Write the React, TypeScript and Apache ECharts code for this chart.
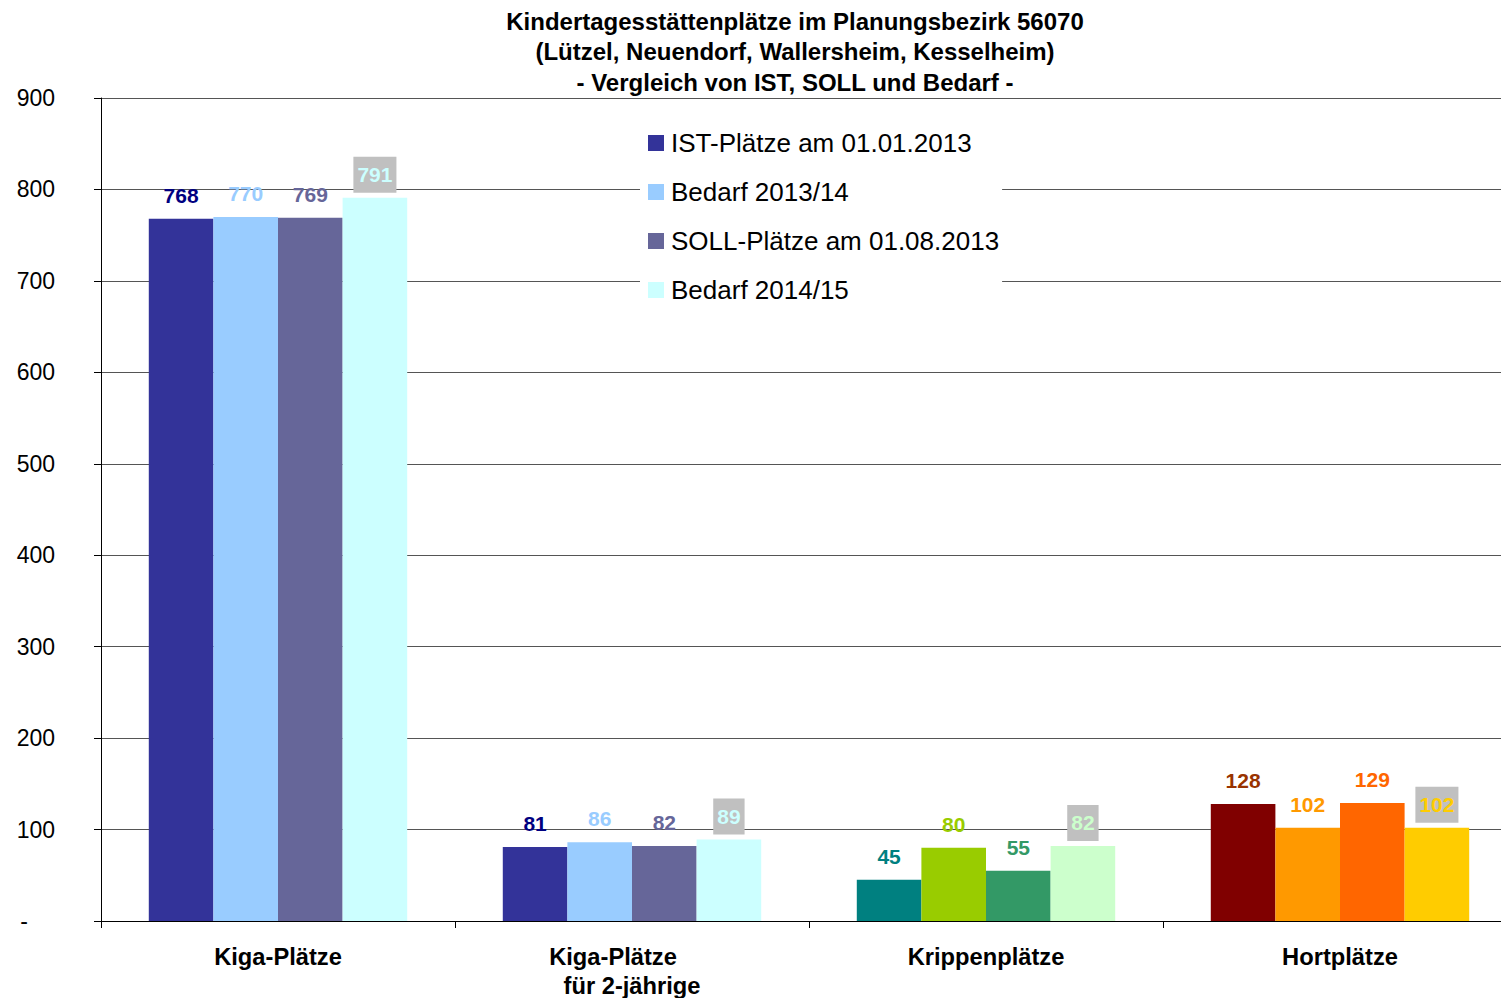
import React, { useEffect, useRef } from "react";
import * as echarts from "echarts";

const categories = ["Kiga-Plätze", "Kiga-Plätze\nfür 2-jährige", "Krippenplätze", "Hortplätze"];
const seriesNames = ["IST-Plätze am 01.01.2013", "Bedarf 2013/14", "SOLL-Plätze am 01.08.2013", "Bedarf 2014/15"];
const istValues = [768, 81, 45, 128];
const bedarf1314Values = [770, 86, 80, 102];
const sollValues = [769, 82, 55, 129];
const bedarf1415Values = [791, 89, 82, 102];
const yTicks = [0, 100, 200, 300, 400, 500, 600, 700, 800, 900];
const titleLines = [
  "Kindertagesstättenplätze im Planungsbezirk 56070",
  "(Lützel, Neuendorf, Wallersheim, Kesselheim)",
  "- Vergleich von IST, SOLL und Bedarf -",
];

// bar colours per category group (rows) and series (columns)
const barColors = [
  ["#333399", "#99CCFF", "#666699", "#CCFFFF"],
  ["#333399", "#99CCFF", "#666699", "#CCFFFF"],
  ["#008080", "#99CC00", "#339966", "#CCFFCC"],
  ["#800000", "#FF9900", "#FF6600", "#FFCC00"],
];
const labelColors = [
  ["#000080", "#99CCFF", "#666699", "#CCFFFF"],
  ["#000080", "#99CCFF", "#666699", "#CCFFFF"],
  ["#008080", "#99CC00", "#339966", "#CCFFCC"],
  ["#993300", "#FF9900", "#FF6600", "#FFCC00"],
];
const legendColors = ["#333399", "#99CCFF", "#666699", "#CCFFFF"];

const FONT = "'Liberation Sans', Arial, Helvetica, sans-serif";

export default function App() {
  const ref = useRef<HTMLDivElement>(null);
  useEffect(() => {
    if (!ref.current) return;
    const chart = echarts.init(ref.current, undefined, { renderer: "svg" });
    const allValues = [istValues, bedarf1314Values, sollValues, bedarf1415Values];
    const series = allValues.map((vals, si) => ({
      name: seriesNames[si],
      type: "bar",
      barGap: "0%",
      barCategoryGap: "27%",
      itemStyle: { color: legendColors[si] },
      data: vals.map((v, ci) => ({
        value: v,
        itemStyle: { color: barColors[ci][si] },
        label: {
          show: true,
          position: "top",
          distance: si === 3 ? 5 : 13,
          color: labelColors[ci][si],
          fontSize: 21,
          fontWeight: "bold",
          fontFamily: FONT,
          backgroundColor: si === 3 ? "#C0C0C0" : "transparent",
          padding: si === 3 ? [7, 4, 8, 4] : 0,
        },
      })),
    }));
    chart.setOption({
      animation: false,
      backgroundColor: "#ffffff",
      textStyle: { fontFamily: FONT },
      title: {
        text: titleLines.join("\n"),
        left: 795,
        top: 6,
        padding: 0,
        textAlign: "center",
        textStyle: {
          fontFamily: FONT,
          fontSize: 24,
          fontWeight: "bold",
          lineHeight: 30.5,
          color: "#000",
        },
      },
      legend: {
        data: seriesNames,
        orient: "vertical",
        left: 640,
        top: 120,
        padding: [10, 3, 10, 8],
        backgroundColor: "#ffffff",
        itemWidth: 16,
        itemHeight: 16,
        itemGap: 23,
        icon: "rect",
        selectedMode: false,
        textStyle: { fontFamily: FONT, fontSize: 26, color: "#000", padding: [0, 0, 0, 2] },
      },
      grid: {
        left: 101,
        top: 98,
        width: 1416,
        height: 823,
        containLabel: false,
        outerBoundsMode: "none",
      },
      xAxis: {
        type: "category",
        data: categories,
        axisLine: { lineStyle: { color: "#000", width: 1 } },
        axisTick: { show: true, length: 7, lineStyle: { color: "#000" } },
        axisLabel: {
          margin: 21,
          color: "#000",
          fontFamily: FONT,
          fontSize: 23.7,
          fontWeight: "bold",
          lineHeight: 29,
          formatter: (v: string) => {
            const parts = v.split("\n");
            if (parts.length === 2) return `{a|${parts[0]}}\n{b|${parts[1]}}`;
            return `{b|${v}}`;
          },
          rich: {
            a: { fontFamily: FONT, fontSize: 23.7, fontWeight: "bold", lineHeight: 29, color: "#000", padding: [0, 38, 0, 0] },
            b: { fontFamily: FONT, fontSize: 23.7, fontWeight: "bold", lineHeight: 29, color: "#000" },
          },
        },
      },
      yAxis: {
        type: "value",
        min: yTicks[0],
        max: yTicks[yTicks.length - 1],
        interval: 100,
        axisLine: { show: true, lineStyle: { color: "#000", width: 1 } },
        axisTick: { show: true, length: 7, lineStyle: { color: "#000" } },
        splitLine: { show: true, lineStyle: { color: "#555", width: 1 } },
        axisLabel: {
          margin: 46,
          color: "#000",
          fontFamily: FONT,
          fontSize: 23,
          formatter: (v: number) => (v === 0 ? "{z|-}" : String(v)),
          rich: { z: { fontFamily: FONT, fontSize: 23, color: "#000", padding: [0, 27, 0, 0] } },
        },
      },
      series,
    });
    return () => chart.dispose();
  }, []);
  return (
    <div
      ref={ref}
      style={{ position: "absolute", left: 0, top: 0, width: 1501, height: 998 }}
    />
  );
}
